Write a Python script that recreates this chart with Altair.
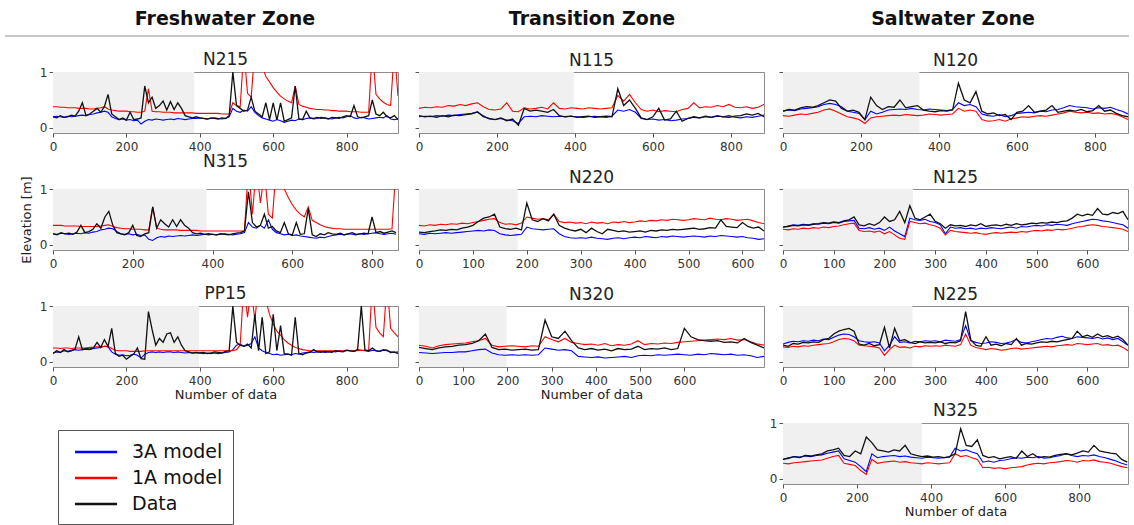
import altair as alt
import pandas as pd

SERIES = ["3A model", "1A model", "Data"]
COLORS = ["#0000ff", "#ff0000", "#111111"]
ZONES = ["Freshwater Zone", "Transition Zone", "Saltwater Zone"]
X_TITLE = "Number of data"
Y_TITLE = "Elevation [m]"
Y_TICKS = [0, 1]
Y_DOMAIN = [-0.09, 1.0]
TICKS_200 = [0, 200, 400, 600, 800]
TICKS_100 = [0, 100, 200, 300, 400, 500, 600]

# ---------------- Freshwater zone ----------------
N215_step = 10
N215_3A = [0.20,0.21,0.20,0.19,0.21,0.20,0.21,0.22,
           0.23,0.22,0.24,0.25,0.27,0.28,0.30,0.28,
           0.20,0.17,0.15,0.16,0.14,0.15,0.13,0.14,
           0.07,0.12,0.15,0.14,0.16,0.15,0.14,0.15,
           0.16,0.15,0.17,0.16,0.15,0.16,0.17,0.17,
           0.18,0.17,0.16,0.17,0.18,0.17,0.16,0.17,
           0.20,0.35,0.30,0.28,0.32,0.30,0.38,0.28,
           0.22,0.18,0.16,0.14,0.12,0.15,0.13,0.10,
           0.12,0.14,0.13,0.16,0.15,0.17,0.18,0.16,
           0.17,0.19,0.18,0.17,0.16,0.18,0.19,0.18,
           0.20,0.22,0.18,0.17,0.19,0.18,0.16,0.17,
           0.18,0.19,0.18,0.22,0.16,0.15,0.16]
N215_1A = [0.38,0.38,0.37,0.37,0.36,0.36,0.36,0.35,
           0.35,0.35,0.34,0.34,0.35,0.36,0.38,0.34,
           0.32,0.31,0.30,0.30,0.30,0.29,0.29,0.28,
           0.28,0.30,0.70,0.30,0.29,0.29,0.28,0.28,
           0.28,0.27,0.27,0.27,0.27,0.27,0.27,0.26,
           0.26,0.26,0.26,0.26,0.26,0.26,0.25,0.25,
           0.25,0.45,0.40,0.38,1.40,0.62,0.55,1.40,
           1.30,1.10,0.92,0.82,0.72,0.64,0.57,0.52,
           0.48,0.45,0.75,0.42,0.39,0.37,0.35,0.34,
           0.33,0.33,0.32,0.32,0.31,0.31,0.30,0.30,
           0.30,0.29,0.29,0.29,0.28,0.28,0.28,1.40,
           0.60,0.52,0.46,0.42,0.40,1.40,0.57]
N215_DATA = [0.20,0.18,0.22,0.19,0.20,0.23,0.21,0.30,
             0.45,0.22,0.25,0.30,0.35,0.28,0.38,0.60,
             0.25,0.20,0.15,0.18,0.14,0.28,0.15,0.16,
             0.18,0.75,0.45,0.55,0.35,0.40,0.48,0.32,
             0.47,0.33,0.45,0.35,0.22,0.20,0.18,0.20,
             0.18,0.17,0.16,0.18,0.17,0.16,0.18,0.17,
             0.22,1.00,0.40,0.35,0.30,0.32,0.55,0.30,
             0.25,0.20,0.45,0.15,0.45,0.14,0.45,0.12,
             0.15,0.18,0.75,0.16,0.15,0.30,0.18,0.17,
             0.19,0.17,0.18,0.16,0.19,0.18,0.17,0.20,
             0.22,0.20,0.40,0.20,0.18,0.20,0.22,0.50,
             0.25,0.22,0.28,0.20,0.18,0.22,0.15]

N315_step = 10
N315_3A = [0.20,0.19,0.21,0.20,0.19,0.20,0.21,0.20,
           0.22,0.21,0.23,0.24,0.27,0.28,0.30,0.29,
           0.24,0.20,0.19,0.20,0.18,0.19,0.17,0.18,
           0.10,0.08,0.13,0.15,0.14,0.16,0.15,0.16,
           0.17,0.16,0.17,0.18,0.17,0.18,0.19,0.18,
           0.19,0.18,0.19,0.20,0.19,0.18,0.19,0.20,
           0.22,0.40,0.32,0.30,0.35,0.30,0.45,0.28,
           0.22,0.20,0.18,0.19,0.17,0.18,0.16,0.15,
           0.14,0.13,0.12,0.14,0.13,0.15,0.17,0.18,
           0.19,0.18,0.20,0.19,0.18,0.20,0.19,0.20,
           0.21,0.22,0.20,0.19,0.20,0.21,0.19]
N315_1A = [0.35,0.35,0.35,0.34,0.34,0.34,0.34,0.33,
           0.33,0.33,0.33,0.33,0.34,0.35,0.36,0.33,
           0.31,0.30,0.29,0.29,0.28,0.28,0.28,0.27,
           0.27,0.68,0.30,0.28,0.27,0.27,0.27,0.27,
           0.26,0.26,0.26,0.26,0.26,0.25,0.25,0.25,
           0.25,0.25,0.25,0.25,0.25,0.25,0.25,0.25,
           0.25,1.40,0.55,1.40,0.75,1.30,0.55,0.48,
           1.40,1.30,1.00,0.85,0.72,0.62,0.55,0.50,
           0.68,0.44,0.40,0.36,0.33,0.31,0.30,0.29,
           0.29,0.28,0.28,0.28,0.28,0.28,0.28,0.28,
           0.28,0.28,0.28,0.28,0.28,0.29,1.40]
N315_DATA = [0.20,0.18,0.22,0.20,0.21,0.19,0.23,0.35,
             0.22,0.24,0.28,0.38,0.30,0.50,0.60,0.35,
             0.22,0.20,0.18,0.22,0.35,0.17,0.15,0.20,
             0.22,0.68,0.30,0.45,0.38,0.32,0.45,0.33,
             0.45,0.35,0.30,0.22,0.20,0.21,0.19,0.20,
             0.19,0.18,0.20,0.19,0.18,0.20,0.21,0.22,
             0.25,0.95,0.40,0.32,0.35,0.55,0.30,0.33,
             0.25,0.22,0.40,0.20,0.18,0.40,0.19,0.20,
             0.65,0.18,0.15,0.20,0.18,0.22,0.20,0.19,
             0.21,0.18,0.20,0.22,0.19,0.20,0.21,0.20,
             0.50,0.22,0.24,0.21,0.23,0.25,0.22]

PP15_step = 10
PP15_3A = [0.16,0.18,0.17,0.20,0.19,0.21,0.22,0.21,
           0.22,0.23,0.22,0.24,0.25,0.26,0.28,0.27,
           0.18,0.14,0.12,0.13,0.11,0.12,0.14,0.12,
           0.07,0.14,0.17,0.18,0.17,0.18,0.17,0.18,
           0.18,0.17,0.18,0.17,0.16,0.17,0.16,0.16,
           0.16,0.15,0.16,0.15,0.16,0.15,0.16,0.17,
           0.18,0.22,0.30,0.32,0.28,0.30,0.33,0.45,
           0.25,0.20,0.17,0.15,0.13,0.14,0.12,0.13,
           0.14,0.13,0.15,0.14,0.16,0.17,0.18,0.17,
           0.18,0.19,0.17,0.18,0.19,0.18,0.20,0.19,
           0.21,0.20,0.19,0.22,0.21,0.20,0.19,0.21,
           0.20,0.19,0.21,0.20,0.18,0.17,0.18]
PP15_1A = [0.25,0.25,0.24,0.25,0.25,0.24,0.25,0.25,
           0.25,0.25,0.26,0.26,0.27,0.27,0.28,0.28,
           0.24,0.21,0.20,0.20,0.20,0.19,0.19,0.19,
           0.19,0.20,0.20,0.20,0.20,0.20,0.20,0.20,
           0.20,0.20,0.20,0.20,0.20,0.20,0.20,0.20,
           0.20,0.20,0.20,0.20,0.20,0.20,0.20,0.20,
           0.20,0.20,0.22,0.30,1.40,0.80,1.30,0.75,
           1.40,1.30,1.10,0.85,0.68,0.55,0.48,0.40,
           0.34,0.30,0.26,0.24,0.22,0.21,0.20,0.20,
           0.20,0.20,0.20,0.20,0.20,0.20,0.20,0.20,
           0.20,0.20,0.20,0.20,0.21,0.21,0.21,1.40,
           0.62,0.52,0.45,1.40,0.60,0.52,0.45]
PP15_DATA = [0.15,0.20,0.17,0.22,0.18,0.20,0.23,0.45,
             0.22,0.24,0.23,0.25,0.35,0.26,0.40,0.28,
             0.60,0.15,0.10,0.12,0.05,0.10,0.14,0.25,
             0.06,0.05,0.90,0.58,0.30,0.42,0.35,0.50,
             0.52,0.35,0.45,0.30,0.20,0.18,0.16,0.17,
             0.16,0.17,0.15,0.16,0.18,0.17,0.16,0.19,
             0.20,1.00,0.35,0.30,0.28,0.32,0.25,0.85,
             0.20,0.80,0.15,0.18,0.85,0.20,0.65,0.15,
             0.14,0.12,0.80,0.15,0.13,0.16,0.17,0.22,
             0.18,0.17,0.19,0.18,0.17,0.20,0.19,0.18,
             0.21,0.20,0.19,0.22,1.00,0.21,0.20,0.25,
             0.20,0.19,0.22,0.21,0.17,0.18,0.15]

# ---------------- Transition zone ----------------
N115_step = 15
N115_3A = [0.20,0.21,0.20,0.22,0.21,0.23,0.22,0.24,0.25,0.26,
           0.28,0.22,0.16,0.15,0.17,0.14,0.13,0.08,0.20,0.21,
           0.20,0.22,0.21,0.20,0.21,0.20,0.21,0.20,0.19,0.20,
           0.21,0.20,0.19,0.21,0.32,0.30,0.33,0.28,0.17,0.15,
           0.16,0.14,0.15,0.13,0.14,0.16,0.17,0.19,0.18,0.20,
           0.19,0.21,0.20,0.22,0.19,0.18,0.20,0.19,0.21,0.23]
N115_1A = [0.35,0.37,0.36,0.38,0.37,0.40,0.39,0.42,0.40,0.43,
           0.45,0.38,0.33,0.32,0.34,0.45,0.30,0.29,0.36,0.34,
           0.35,0.37,0.34,0.45,0.35,0.34,0.36,0.35,0.34,0.36,
           0.35,0.34,0.35,0.36,0.58,0.48,0.60,0.45,0.33,0.30,
           0.32,0.29,0.31,0.30,0.29,0.33,0.35,0.45,0.36,0.38,
           0.37,0.40,0.38,0.42,0.37,0.36,0.38,0.35,0.37,0.42]
N115_DATA = [0.22,0.20,0.21,0.19,0.22,0.20,0.23,0.22,0.24,0.25,
             0.29,0.20,0.17,0.15,0.18,0.13,0.16,0.05,0.35,0.30,
             0.32,0.30,0.28,0.33,0.22,0.20,0.21,0.19,0.20,0.21,
             0.19,0.20,0.21,0.20,0.70,0.40,0.50,0.35,0.18,0.15,
             0.20,0.35,0.14,0.16,0.30,0.12,0.17,0.20,0.18,0.21,
             0.19,0.22,0.20,0.19,0.21,0.22,0.25,0.23,0.26,0.20]

N220_step = 10
N220_3A = [0.20,0.19,0.21,0.20,0.21,0.22,0.21,0.22,0.23,0.24,
           0.25,0.26,0.25,0.27,0.26,0.20,0.18,0.17,0.18,0.19,
           0.32,0.29,0.28,0.27,0.28,0.29,0.20,0.15,0.13,0.12,
           0.13,0.12,0.14,0.12,0.11,0.10,0.12,0.13,0.11,0.13,
           0.14,0.13,0.15,0.14,0.13,0.15,0.14,0.16,0.15,0.14,
           0.15,0.16,0.15,0.14,0.16,0.15,0.17,0.16,0.15,0.14,
           0.15,0.13,0.12,0.10,0.11]
N220_1A = [0.35,0.34,0.36,0.35,0.37,0.36,0.38,0.37,0.39,0.38,
           0.40,0.42,0.44,0.46,0.47,0.40,0.37,0.38,0.36,0.39,
           0.50,0.48,0.46,0.47,0.45,0.55,0.42,0.40,0.41,0.39,
           0.40,0.38,0.41,0.39,0.40,0.38,0.41,0.40,0.42,0.40,
           0.41,0.43,0.42,0.44,0.43,0.45,0.44,0.46,0.45,0.44,
           0.45,0.47,0.46,0.45,0.48,0.46,0.45,0.47,0.46,0.44,
           0.45,0.46,0.43,0.40,0.38]
N220_DATA = [0.23,0.22,0.24,0.25,0.27,0.26,0.28,0.27,0.30,0.32,
             0.35,0.42,0.48,0.50,0.55,0.32,0.29,0.28,0.30,0.27,
             0.75,0.45,0.42,0.47,0.43,0.55,0.35,0.30,0.27,0.25,
             0.28,0.22,0.30,0.24,0.20,0.28,0.26,0.24,0.25,0.23,
             0.24,0.25,0.23,0.26,0.25,0.27,0.26,0.28,0.27,0.28,
             0.29,0.30,0.28,0.29,0.31,0.30,0.45,0.33,0.32,0.31,
             0.40,0.33,0.30,0.32,0.25]

N320_step = 15
N320_3A = [0.17,0.16,0.15,0.16,0.17,0.17,0.18,0.18,0.20,0.22,
           0.23,0.16,0.13,0.12,0.13,0.12,0.13,0.12,0.13,0.25,
           0.23,0.21,0.22,0.20,0.10,0.09,0.08,0.09,0.07,0.08,
           0.09,0.10,0.08,0.11,0.12,0.11,0.13,0.12,0.13,0.14,
           0.13,0.12,0.14,0.13,0.15,0.14,0.13,0.14,0.12,0.13,
           0.11,0.08,0.10]
N320_1A = [0.30,0.28,0.25,0.29,0.31,0.32,0.33,0.34,0.36,0.38,
           0.42,0.30,0.27,0.28,0.29,0.28,0.27,0.29,0.28,0.45,
           0.40,0.36,0.42,0.35,0.33,0.31,0.32,0.30,0.33,0.29,
           0.31,0.30,0.32,0.38,0.31,0.33,0.32,0.34,0.33,0.35,
           0.36,0.37,0.38,0.39,0.40,0.41,0.40,0.42,0.39,0.40,
           0.36,0.32,0.30]
N320_DATA = [0.26,0.24,0.22,0.25,0.27,0.28,0.30,0.31,0.33,0.38,
             0.50,0.26,0.22,0.23,0.21,0.22,0.23,0.21,0.22,0.75,
             0.45,0.42,0.55,0.38,0.25,0.22,0.24,0.21,0.23,0.20,
             0.24,0.22,0.23,0.28,0.22,0.24,0.23,0.25,0.22,0.24,
             0.60,0.45,0.40,0.38,0.37,0.38,0.35,0.36,0.34,0.42,
             0.35,0.30,0.25]

# ---------------- Saltwater zone ----------------
N120_step = 15
N120_3A = [0.30,0.32,0.31,0.34,0.35,0.36,0.38,0.42,0.44,0.42,
           0.38,0.30,0.28,0.26,0.15,0.30,0.25,0.28,0.32,0.33,
           0.34,0.33,0.35,0.33,0.32,0.34,0.33,0.32,0.31,0.33,
           0.45,0.40,0.42,0.38,0.25,0.22,0.21,0.24,0.20,0.22,
           0.26,0.27,0.28,0.27,0.30,0.29,0.32,0.33,0.36,0.40,
           0.38,0.37,0.36,0.34,0.36,0.35,0.37,0.33,0.30,0.25]
N120_1A = [0.22,0.21,0.23,0.25,0.24,0.26,0.28,0.32,0.34,0.30,
           0.25,0.20,0.18,0.15,0.08,0.18,0.20,0.21,0.22,0.23,
           0.22,0.24,0.23,0.22,0.23,0.25,0.24,0.23,0.24,0.25,
           0.35,0.30,0.32,0.30,0.15,0.12,0.13,0.15,0.12,0.16,
           0.18,0.20,0.19,0.21,0.22,0.21,0.23,0.25,0.27,0.30,
           0.28,0.27,0.28,0.26,0.27,0.25,0.26,0.24,0.20,0.15]
N120_DATA = [0.30,0.33,0.32,0.36,0.38,0.37,0.40,0.45,0.50,0.48,
             0.35,0.30,0.32,0.28,0.15,0.55,0.40,0.33,0.38,0.37,
             0.50,0.36,0.38,0.40,0.32,0.30,0.29,0.31,0.30,0.32,
             0.80,0.50,0.45,0.65,0.30,0.25,0.27,0.22,0.24,0.15,
             0.28,0.30,0.40,0.28,0.30,0.32,0.40,0.28,0.30,0.32,
             0.30,0.33,0.29,0.31,0.40,0.30,0.32,0.26,0.22,0.20]

N125_step = 10
N125_3A = [0.32,0.34,0.36,0.35,0.37,0.36,0.38,0.37,0.39,0.38,
           0.40,0.39,0.42,0.43,0.44,0.30,0.29,0.31,0.28,0.30,
           0.26,0.32,0.25,0.20,0.15,0.48,0.45,0.44,0.46,0.42,
           0.40,0.36,0.20,0.32,0.30,0.31,0.29,0.30,0.28,0.30,
           0.29,0.31,0.30,0.29,0.31,0.32,0.30,0.33,0.32,0.34,
           0.35,0.34,0.36,0.35,0.37,0.36,0.35,0.38,0.40,0.42,
           0.44,0.46,0.45,0.43,0.42,0.40,0.38,0.36,0.30]
N125_1A = [0.28,0.27,0.29,0.28,0.30,0.29,0.31,0.30,0.32,0.31,
           0.33,0.34,0.36,0.38,0.39,0.26,0.24,0.25,0.23,0.25,
           0.20,0.24,0.18,0.12,0.10,0.42,0.40,0.38,0.39,0.36,
           0.34,0.30,0.18,0.26,0.24,0.23,0.22,0.21,0.22,0.20,
           0.19,0.21,0.22,0.21,0.22,0.23,0.22,0.24,0.23,0.25,
           0.26,0.25,0.27,0.26,0.28,0.27,0.28,0.30,0.32,0.33,
           0.35,0.36,0.35,0.33,0.32,0.31,0.30,0.28,0.24]
N125_DATA = [0.32,0.33,0.35,0.34,0.36,0.35,0.37,0.38,0.40,0.39,
             0.41,0.40,0.43,0.45,0.50,0.36,0.34,0.38,0.35,0.40,
             0.50,0.42,0.45,0.60,0.40,0.70,0.48,0.45,0.50,0.55,
             0.42,0.38,0.30,0.36,0.34,0.35,0.33,0.36,0.34,0.38,
             0.33,0.35,0.36,0.34,0.37,0.35,0.38,0.36,0.37,0.39,
             0.38,0.40,0.39,0.41,0.40,0.42,0.43,0.48,0.55,0.52,
             0.55,0.53,0.65,0.55,0.54,0.58,0.56,0.60,0.45]

N225_step = 10
N225_3A = [0.32,0.35,0.37,0.36,0.38,0.37,0.39,0.38,0.41,0.40,
           0.44,0.48,0.50,0.49,0.45,0.38,0.36,0.35,0.36,0.34,
           0.20,0.30,0.45,0.35,0.36,0.34,0.37,0.36,0.38,0.37,
           0.38,0.36,0.39,0.38,0.37,0.40,0.65,0.38,0.35,0.33,
           0.34,0.36,0.35,0.33,0.34,0.36,0.40,0.35,0.34,0.36,
           0.38,0.40,0.42,0.41,0.44,0.46,0.43,0.42,0.45,0.44,
           0.43,0.42,0.44,0.41,0.43,0.40,0.42,0.36,0.30]
N225_1A = [0.27,0.26,0.28,0.27,0.29,0.28,0.30,0.31,0.32,0.33,
           0.36,0.40,0.42,0.41,0.38,0.30,0.29,0.28,0.27,0.25,
           0.12,0.22,0.30,0.26,0.27,0.25,0.28,0.27,0.29,0.28,
           0.29,0.28,0.30,0.29,0.28,0.31,0.50,0.30,0.26,0.24,
           0.22,0.24,0.23,0.21,0.22,0.24,0.25,0.23,0.24,0.25,
           0.26,0.27,0.28,0.27,0.29,0.30,0.31,0.30,0.33,0.32,
           0.31,0.32,0.33,0.30,0.31,0.29,0.30,0.26,0.20]
N225_DATA = [0.30,0.28,0.33,0.32,0.35,0.34,0.36,0.35,0.40,0.42,
             0.50,0.55,0.58,0.60,0.55,0.32,0.30,0.33,0.29,0.31,
             0.62,0.25,0.60,0.38,0.40,0.35,0.33,0.36,0.34,0.35,
             0.34,0.36,0.33,0.35,0.34,0.38,0.90,0.40,0.30,0.28,
             0.45,0.30,0.32,0.29,0.33,0.31,0.42,0.30,0.33,0.32,
             0.34,0.36,0.35,0.37,0.36,0.38,0.40,0.42,0.55,0.45,
             0.48,0.44,0.50,0.45,0.47,0.43,0.46,0.40,0.30]

N325_step = 15
N325_3A = [0.35,0.38,0.40,0.39,0.41,0.40,0.42,0.43,0.46,0.48,
           0.50,0.36,0.33,0.30,0.22,0.13,0.45,0.38,0.40,0.41,
           0.42,0.40,0.41,0.39,0.38,0.37,0.39,0.38,0.37,0.38,
           0.39,0.55,0.50,0.52,0.48,0.45,0.30,0.32,0.30,0.33,
           0.34,0.36,0.38,0.37,0.39,0.38,0.40,0.37,0.38,0.40,
           0.42,0.45,0.42,0.40,0.42,0.41,0.43,0.40,0.38,0.35,
           0.32,0.28,0.25]
N325_1A = [0.28,0.27,0.29,0.30,0.31,0.32,0.33,0.34,0.37,0.40,
           0.42,0.28,0.26,0.24,0.15,0.08,0.35,0.28,0.30,0.31,
           0.32,0.30,0.31,0.29,0.28,0.27,0.29,0.28,0.27,0.28,
           0.29,0.45,0.40,0.42,0.38,0.35,0.20,0.21,0.19,0.20,
           0.18,0.20,0.21,0.22,0.25,0.27,0.28,0.27,0.29,0.30,
           0.31,0.33,0.32,0.30,0.33,0.32,0.34,0.31,0.30,0.28,
           0.25,0.22,0.20]
N325_DATA = [0.35,0.37,0.40,0.38,0.42,0.41,0.43,0.45,0.50,0.52,
             0.55,0.42,0.40,0.50,0.45,0.75,0.65,0.52,0.50,0.48,
             0.52,0.50,0.60,0.45,0.42,0.40,0.41,0.39,0.40,0.38,
             0.40,0.45,0.90,0.60,0.58,0.70,0.42,0.38,0.40,0.36,
             0.38,0.40,0.37,0.50,0.40,0.45,0.38,0.40,0.39,0.42,
             0.44,0.45,0.43,0.46,0.50,0.48,0.60,0.50,0.48,0.46,
             0.45,0.35,0.30]

PANEL_W = 345
PANEL_H = 61

LEGEND = alt.Legend(
    orient="none", legendX=5, legendY=426, title=None,
    labelFont="DejaVu Sans", labelFontSize=19, labelColor="#111",
    symbolType="M-2,0L2,0", symbolSize=441, symbolStrokeWidth=2.5,
    symbolOffset=16, strokeColor="#555", fillColor="white",
    padding=10, rowPadding=4, labelOffset=24, offset=0,
)


def panel(name, step, s3a, s1a, sdat, xmax, train_end, xticks,
          xtitle=False, ylabels=True, ytitle=None):
    rows = []
    for ser, vals in zip(SERIES, [s3a, s1a, sdat]):
        for i, v in enumerate(vals):
            rows.append({"x": i * step, "y": v, "series": ser})
    df = pd.DataFrame(rows)
    xscale = alt.Scale(domain=[0, xmax], nice=False, zero=False)
    yscale = alt.Scale(domain=Y_DOMAIN, nice=False, zero=False)
    xaxis = alt.Axis(values=xticks, title=X_TITLE if xtitle else None,
                     tickSize=4, labelPadding=4, titlePadding=2,
                     labelFlush=False, labelOverlap=False, format="d")
    yaxis = alt.Axis(values=Y_TICKS, labels=ylabels, title=ytitle, format="d",
                     tickSize=4, labelPadding=2, titlePadding=6)
    shade_df = pd.DataFrame({"a": [0], "b": [train_end],
                             "lo": [Y_DOMAIN[0]], "hi": [Y_DOMAIN[1]]})
    shade = alt.Chart(shade_df).mark_rect(color="#f0f0f0").encode(
        x=alt.X("a:Q", scale=xscale, axis=xaxis), x2="b",
        y=alt.Y("lo:Q", scale=yscale, axis=yaxis), y2="hi")
    layers = [shade]
    for ser, w in zip(SERIES, [1.1, 1.1, 1.3]):
        layers.append(
            alt.Chart(df).transform_filter(alt.datum.series == ser)
            .mark_line(clip=True, strokeWidth=w)
            .encode(
                x=alt.X("x:Q", scale=xscale, axis=xaxis),
                y=alt.Y("y:Q", scale=yscale, axis=yaxis),
                color=alt.Color("series:N",
                                scale=alt.Scale(domain=SERIES, range=COLORS),
                                legend=LEGEND),
            )
        )
    # the top "1" label lifts the title of labelled panels; compensate
    if ytitle is not None:
        t_off = 5
    elif ylabels:
        t_off = -3
    else:
        t_off = 2
    return alt.layer(*layers).properties(
        width=PANEL_W, height=PANEL_H,
        title=alt.TitleParams(name, fontSize=17, font="DejaVu Sans",
                              fontWeight="normal", color="#222", offset=t_off),
    )


VS = 56  # distance between plot areas (flush bounds)
col1 = alt.vconcat(
    panel("N215", N215_step, N215_3A, N215_1A, N215_DATA, 940, 385, TICKS_200),
    panel("N315", N315_step, N315_3A, N315_1A, N315_DATA, 865, 385, TICKS_200,
          ytitle=Y_TITLE),
    panel("PP15", PP15_step, PP15_3A, PP15_1A, PP15_DATA, 940, 398, TICKS_200,
          xtitle=True),
    spacing=VS, bounds="flush",
)
col2 = alt.vconcat(
    panel("N115", N115_step, N115_3A, N115_1A, N115_DATA, 885, 397, TICKS_200,
          ylabels=False),
    panel("N220", N220_step, N220_3A, N220_1A, N220_DATA, 640, 183, TICKS_100,
          ylabels=False),
    panel("N320", N320_step, N320_3A, N320_1A, N320_DATA, 780, 198, TICKS_100,
          xtitle=True, ylabels=False),
    spacing=VS, bounds="flush",
)
col3 = alt.vconcat(
    panel("N120", N120_step, N120_3A, N120_1A, N120_DATA, 885, 350, TICKS_200,
          ylabels=False),
    panel("N125", N125_step, N125_3A, N125_1A, N125_DATA, 680, 256, TICKS_100,
          ylabels=False),
    panel("N225", N225_step, N225_3A, N225_1A, N225_DATA, 680, 255, TICKS_100,
          ylabels=False),
    panel("N325", N325_step, N325_3A, N325_1A, N325_DATA, 932, 375, TICKS_200,
          xtitle=True),
    spacing=VS, bounds="flush",
)
body = alt.hconcat(col1, alt.hconcat(col2, col3, spacing=3), spacing=15)

# header: coordinates are relative to the first panel's left edge
HEAD_W = 1076
HEAD_H = 32
HEAD_X = [172, 539, 900]
head_layers = []
for z, hx in zip(ZONES, HEAD_X):
    head_layers.append(
        alt.Chart(pd.DataFrame({"t": [z]})).mark_text(
            font="DejaVu Sans", fontWeight="bold", fontSize=19, color="#111",
            baseline="middle", align="center")
        .encode(text="t:N", x=alt.value(hx), y=alt.value(15))
    )
head_layers.append(
    alt.Chart(pd.DataFrame({"t": [0]})).mark_rule(color="#c8c8c8", strokeWidth=2)
    .encode(x=alt.value(-48), x2=alt.value(HEAD_W), y=alt.value(HEAD_H))
)
header = alt.layer(*head_layers).properties(
    width=HEAD_W, height=HEAD_H, view=alt.ViewBackground(stroke="transparent"))

chart = (
    alt.vconcat(header, body, spacing=12)
    .properties(padding={"left": 3, "top": 3, "right": 3, "bottom": 0},
                background="white")
    .configure_view(stroke="#8c8c8c", strokeWidth=1)
    .configure_axis(labelFont="DejaVu Sans", labelFontSize=12, labelColor="#333",
                    tickColor="#555", titleFont="DejaVu Sans", titleFontSize=13,
                    titleFontWeight="normal", titleColor="#222",
                    grid=False, domain=False)
)

chart.save("out.html", embed_options={"renderer": "svg", "actions": False})
